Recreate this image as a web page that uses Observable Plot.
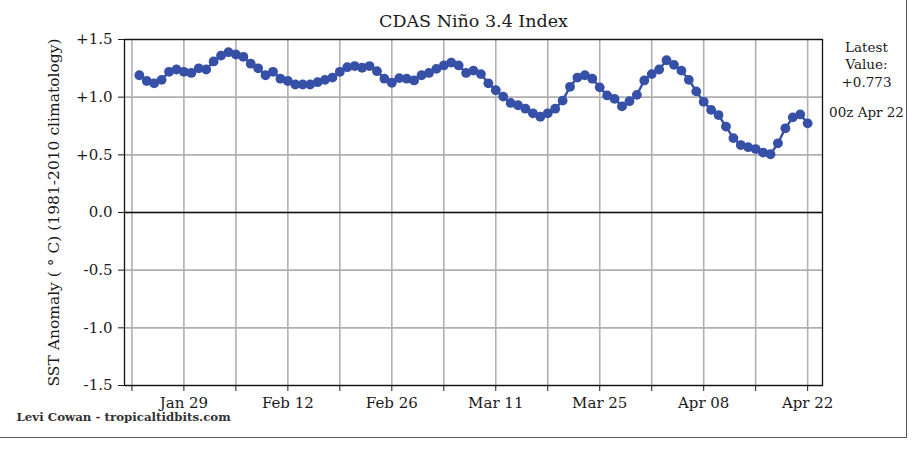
<!DOCTYPE html>
<html>
<head>
<meta charset="utf-8">
<script src="https://cdn.jsdelivr.net/npm/d3@7"></script>
<script src="https://cdn.jsdelivr.net/npm/@observablehq/plot@0.6"></script>
<style>
  html, body { margin: 0; padding: 0; background: #fff; }
  #wrap { position: relative; width: 915px; height: 449px; }
  #border { position: absolute; left: 0; top: 0; width: 906px; height: 437px;
            border-right: 1.5px solid #555; border-bottom: 1.5px solid #555; pointer-events: none; }
</style>
</head>
<body>
<div id="wrap"><div id="border"></div></div>
<script>
// ---- data (daily CDAS Niño 3.4 anomaly, 2024-01-23 .. 2024-04-22) ----
const startDate = "2024-01-23";
const anomaly = [
  1.19, 1.14, 1.12, 1.15, 1.22, 1.24, 1.22, 1.21, 1.25,            // Jan 23-31
  1.24, 1.31, 1.36, 1.39, 1.37, 1.35, 1.29, 1.25, 1.19, 1.22,      // Feb 1-10
  1.16, 1.14, 1.11, 1.11, 1.11, 1.13, 1.15, 1.17, 1.22, 1.26,      // Feb 11-20
  1.27, 1.255, 1.27, 1.225, 1.16, 1.125, 1.165, 1.16, 1.145,       // Feb 21-29
  1.19, 1.21, 1.245, 1.275, 1.30, 1.275, 1.21, 1.23, 1.20, 1.12,   // Mar 1-10
  1.06, 1.005, 0.95, 0.93, 0.90, 0.86, 0.83, 0.86, 0.90, 0.97,     // Mar 11-20
  1.09, 1.17, 1.19, 1.16, 1.085, 1.015, 0.985, 0.92, 0.965, 1.02, 1.145, // Mar 21-31
  1.20, 1.24, 1.32, 1.28, 1.23, 1.15, 1.05, 0.96, 0.89, 0.845,     // Apr 1-10
  0.745, 0.645, 0.585, 0.566, 0.55, 0.52, 0.505, 0.60, 0.73, 0.825, // Apr 11-20
  0.85, 0.773                                                       // Apr 21-22
];
const xDomain = ["2024-01-21", "2024-04-24"];
const weekTickStart = "2024-01-22";
const weekTickEnd = "2024-04-23";
const xLabelDates = ["2024-01-29","2024-02-12","2024-02-26","2024-03-11","2024-03-25","2024-04-08","2024-04-22"];
const xLabels = ["Jan 29","Feb 12","Feb 26","Mar 11","Mar 25","Apr 08","Apr 22"];
const yTicks = [-1.5, -1.0, -0.5, 0.0, 0.5, 1.0, 1.5];
const yTickLabels = ["-1.5", "-1.0", "-0.5", "0.0", "+0.5", "+1.0", "+1.5"];
const titleText = "CDAS Niño 3.4 Index";
const yLabelText = "SST Anomaly ( \u00B0 C) (1981-2010 climatology)";
const latestText = "Latest\nValue:\n+0.773";
const latestTime = "00z Apr 22";
const creditText = "Levi Cowan - tropicaltidbits.com";

// ---- build ----
const start = new Date(startDate + "T00:00Z");
const data = anomaly.map((v, i) => ({ date: d3.utcDay.offset(start, i), value: v }));
const weekTicks = d3.utcDays(new Date(weekTickStart + "T00:00Z"), new Date(weekTickEnd + "T00:00Z"), 7);
const labelMap = new Map(xLabelDates.map((d, i) => [new Date(d + "T00:00Z").getTime(), xLabels[i]]));
const yLabelMap = new Map(yTicks.map((t, i) => [t, yTickLabels[i]]));
const blue = "#3550a6";
const ink = "#1a1a1a";
const font = "DejaVu Serif";

const chart = Plot.plot({
  width: 915,
  height: 449,
  marginLeft: 124,
  marginRight: 93,
  marginTop: 39,
  marginBottom: 64,
  style: { fontFamily: font, fontSize: "15px", background: "transparent", color: ink },
  x: { type: "utc", domain: xDomain.map(d => new Date(d + "T00:00Z")), axis: null },
  y: { domain: [-1.5, 1.5], axis: null },
  marks: [
    Plot.gridX(weekTicks, { stroke: "#b0b0b0", strokeOpacity: 1, strokeWidth: 1.6 }),
    Plot.gridY(yTicks, { stroke: "#b0b0b0", strokeOpacity: 1, strokeWidth: 1.6 }),
    Plot.ruleY([0], { stroke: "#111", strokeWidth: 1.3 }),
    Plot.axisX(weekTicks, {
      tickSize: 6, tickPadding: 6, fontSize: 15, stroke: ink, fill: ink,
      tickFormat: d => labelMap.get(d.getTime()) ?? "", label: null
    }),
    Plot.axisY(yTicks, {
      tickSize: 6, tickPadding: 6, fontSize: 15, stroke: ink, fill: ink,
      tickFormat: d => yLabelMap.get(d), label: null
    }),
    Plot.line(data, { x: "date", y: "value", stroke: blue, strokeWidth: 2.4 }),
    Plot.dot(data, { x: "date", y: "value", r: 4.9, fill: blue, stroke: "none" }),
    Plot.frame({ stroke: "#111", strokeWidth: 1.3 }),
    Plot.text([titleText], { frameAnchor: "top", dy: -18, fontSize: 17.5, fill: ink, lineAnchor: "middle" }),
    Plot.text([yLabelText], { frameAnchor: "left", dx: -70, rotate: -90, fontSize: 15.5, fill: ink, textAnchor: "middle", lineAnchor: "middle" }),
    Plot.text([latestText], { frameAnchor: "top-right", dx: 44, dy: 24, fontSize: 13.5, lineHeight: 1.3, fill: ink, textAnchor: "middle", lineAnchor: "middle" }),
    Plot.text([latestTime], { frameAnchor: "top-right", dx: 44, dy: 73, fontSize: 13.5, fill: ink, textAnchor: "middle", lineAnchor: "middle" }),
    Plot.text([creditText], { frameAnchor: "bottom-left", dx: -108, dy: 32, fontSize: 11.8, fontWeight: "bold", fill: "#333", textAnchor: "start", lineAnchor: "middle" })
  ]
});
document.getElementById("wrap").appendChild(chart);
</script>
</body>
</html>
